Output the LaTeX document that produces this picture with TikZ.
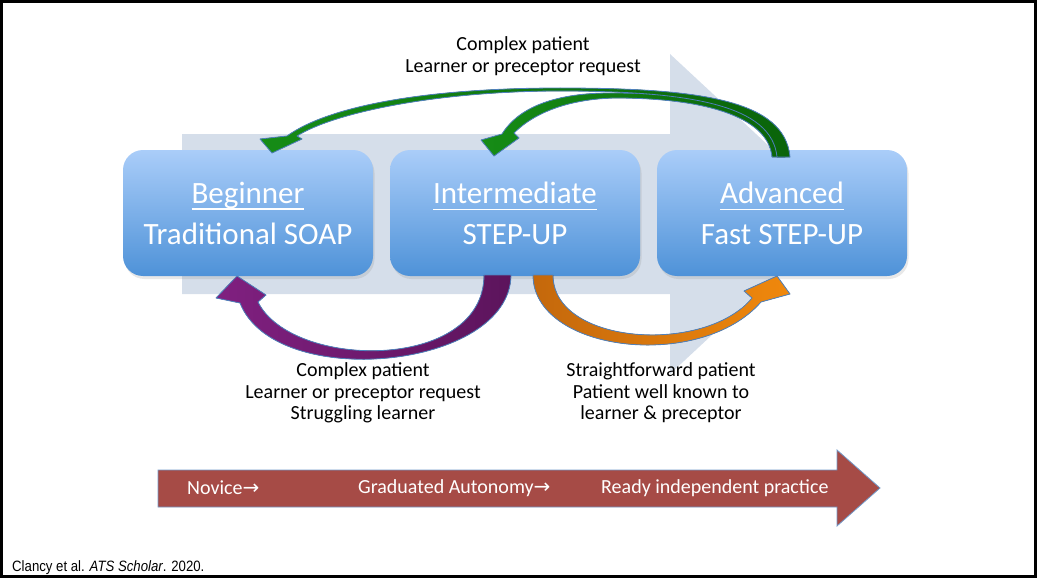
\documentclass[tikz,border=0pt]{standalone}
\usepackage{fontspec}
\usepackage{graphicx}
\usetikzlibrary{shadows}
\setmainfont{Carlito}
\newfontfamily\dejavu{DejaVu Sans}
\newfontfamily\arialfont{Liberation Sans}
\definecolor{graybg}{RGB}{213,222,234}
\definecolor{boxtop}{RGB}{170,205,249}
\definecolor{boxbot}{RGB}{78,146,216}
\definecolor{edgeblue}{RGB}{79,129,189}
\definecolor{redarrow}{RGB}{166,75,70}
\definecolor{greenL}{RGB}{22,140,22}
\definecolor{greenR}{RGB}{10,100,10}
\definecolor{purpleL}{RGB}{128,32,128}
\definecolor{purpleR}{RGB}{92,20,92}
\definecolor{orangeL}{RGB}{196,104,12}
\definecolor{orangeR}{RGB}{240,136,12}
\newlength\ulw
\newcommand\ulx[1]{\settowidth\ulw{#1}#1\hspace{-\ulw}\rule[-7pt]{\ulw}{1.6pt}}
\newcommand\rarr{{\dejavu\fontsize{20}{20}\selectfont →}}
\begin{document}
\begin{tikzpicture}[x=1pt,y=-1pt,
  stagebox/.style={rounded corners=20pt, minimum width=250pt, minimum height=126pt,
    top color=boxtop, bottom color=boxbot, text=white, draw=none,
    drop shadow={opacity=0.18, shadow xshift=1.5pt, shadow yshift=-3pt},
    font=\fontsize{31}{41}\selectfont, align=center, inner sep=0pt},
  bandarrow/.style={draw=edgeblue, line width=0.8pt, line join=round},
  label/.style={font=\fontsize{20}{21.5}\selectfont, align=center, text=black, inner sep=0pt},
  redtext/.style={font=\fontsize{20}{22}\selectfont, text=white, inner sep=0pt, anchor=west}]
\useasboundingbox (0,0) rectangle (1037,578);
% background grey arrow
\fill[graybg] (182,134) -- (670,134) -- (670,54) -- (842,214) -- (670,374) -- (670,294) -- (182,294) -- cycle;
% stage boxes
\node[stagebox] (b1) at (248,213) {\ulx{Beginner}\\Traditional SOAP};
\node[stagebox] (b2) at (515,213) {\ulx{Intermediate}\\STEP-UP};
\node[stagebox] (b3) at (782,213) {\ulx{Advanced}\\Fast STEP-UP};
% green arrow to Intermediate
\filldraw[bandarrow, left color=greenL, right color=greenR]
  (785,157) .. controls (780,105) and (700,93) .. (610,93)
  .. controls (560,93) and (520,105) .. (502,134)
  -- (481,140) -- (494,156) -- (519,138) -- (514,133)
  .. controls (535,112) and (570,99) .. (615,98)
  .. controls (700,98) and (768,115) .. (772,157) -- cycle;
% green arrow to Beginner
\filldraw[bandarrow, left color=greenL, right color=greenR]
  (790,157) .. controls (785,100) and (700,88) .. (560,88)
  .. controls (430,88) and (330,105) .. (287,136)
  -- (260,139) -- (272,153) -- (302,139) -- (297,136)
  .. controls (335,112) and (440,91) .. (560,91)
  .. controls (690,91) and (772,105) .. (777,157) -- cycle;
% purple arrow Intermediate -> Beginner
\filldraw[bandarrow, left color=purpleL, right color=purpleR]
  (511,275) .. controls (510,370) and (275,392) .. (240,303)
  -- (216,298) -- (237,276) -- (266,295) -- (258,302)
  .. controls (292,370) and (484,372) .. (484,275) -- cycle;
% orange arrow Intermediate -> Advanced
\filldraw[bandarrow, left color=orangeL, right color=orangeR]
  (533,275) .. controls (533,352) and (700,372) .. (761,302)
  -- (790,294) -- (777,276) -- (744,291) -- (752,298)
  .. controls (705,355) and (553,345) .. (553,275) -- cycle;
% labels
\node[label] (toptext) at (523,56) {Complex patient\\Learner or preceptor request};
\node[label] (lowL) at (363,393) {Complex patient\\Learner or preceptor request\\Struggling learner};
\node[label] (lowR) at (661,393) {Straightforward patient\\Patient well known to\\learner \& preceptor};
% red progress arrow
\filldraw[fill=redarrow, draw=edgeblue!80, line width=0.8pt, line join=miter]
  (158,470) -- (837,470) -- (837,450) -- (880,488) -- (837,526) -- (837,507) -- (158,507) -- cycle;
\node[redtext] (t1) at (187,488) {Novice\rarr};
\node[redtext] (t2) at (358,488) {Graduated Autonomy\rarr};
\node[redtext] (t3) at (601,488) {Ready independent practice};
% citation
\node[anchor=base west, inner sep=0pt] (cite) at (12,571) {\scalebox{0.88}[1]{\arialfont\fontsize{15}{15}\selectfont Clancy et al. \textit{ATS Scholar}. 2020.}};
% frame
\draw[line width=3pt, black] (1.5,1.5) rectangle (1035.5,576.5);
\end{tikzpicture}
\end{document}
